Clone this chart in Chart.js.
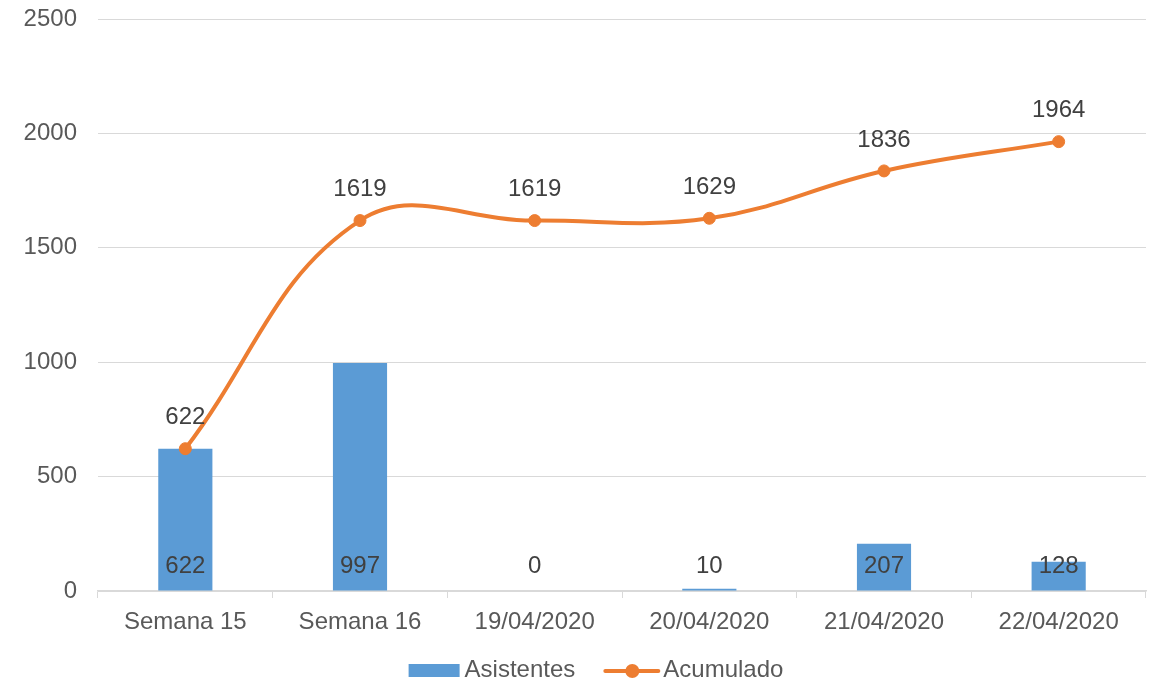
<!DOCTYPE html>
<html>
<head>
<meta charset="utf-8">
<script src="https://cdn.jsdelivr.net/npm/chart.js@4/dist/chart.umd.min.js"></script>
<style>
  html, body { margin: 0; padding: 0; background: #fff; }
  #wrap { width: 1158px; height: 684px; }
</style>
</head>
<body>
<div id="wrap"><canvas id="chart" width="1158" height="684"></canvas></div>
<script>
const categories = ["Semana 15", "Semana 16", "19/04/2020", "20/04/2020", "21/04/2020", "22/04/2020"];
const asistentes = [622, 997, 0, 10, 207, 128];
const acumulado = [622, 1619, 1619, 1629, 1836, 1964];
const yMin = 0;
const yMax = 2500;
const yStep = 500;

const BLUE = "#5b9bd5";
const ORANGE = "#ed7d31";
const FONT = "'Liberation Sans', Arial, sans-serif";

// value labels: bars near their base, line points above the marker
const valueLabels = {
  id: "valueLabels",
  afterDatasetsDraw(chart) {
    const ctx = chart.ctx;
    const yScale = chart.scales.y;
    ctx.save();
    ctx.font = `24px ${FONT}`;
    ctx.fillStyle = "#404040";
    ctx.textAlign = "center";
    ctx.textBaseline = "middle";
    chart.data.datasets.forEach((ds, i) => {
      const meta = chart.getDatasetMeta(i);
      meta.data.forEach((el, j) => {
        const v = ds.data[j];
        if (ds.type === "bar") {
          ctx.fillText(String(v), el.x, yScale.getPixelForValue(0) - 25);
        } else {
          ctx.fillText(String(v), el.x, el.y - 31);
        }
      });
    });
    ctx.restore();
  },
};

// legend under the axis: blue box for bars, line with dot for the total
const bottomLegend = {
  id: "bottomLegend",
  afterDraw(chart) {
    const ctx = chart.ctx;
    ctx.save();
    ctx.font = `24px ${FONT}`;
    const t1 = chart.data.datasets[0].label;
    const t2 = chart.data.datasets[1].label;
    const w1 = ctx.measureText(t1).width;
    const w2 = ctx.measureText(t2).width;
    const total = 51 + 5 + w1 + 28 + 57 + 3 + w2;
    let x = 596 - total / 2;
    const cy = 670;

    ctx.fillStyle = BLUE;
    ctx.fillRect(x, cy - 6, 51, 13);
    x += 56;
    ctx.fillStyle = "#595959";
    ctx.textBaseline = "middle";
    ctx.fillText(t1, x, cy);
    x += w1 + 28;

    ctx.strokeStyle = ORANGE;
    ctx.lineWidth = 4;
    ctx.lineCap = "round";
    ctx.beginPath();
    ctx.moveTo(x + 2, cy + 1);
    ctx.lineTo(x + 55, cy + 1);
    ctx.stroke();
    ctx.fillStyle = ORANGE;
    ctx.beginPath();
    ctx.arc(x + 29, cy + 1, 7, 0, Math.PI * 2);
    ctx.fill();
    x += 60;
    ctx.fillStyle = "#595959";
    ctx.fillText(t2, x, cy);
    ctx.restore();
  },
};

new Chart(document.getElementById("chart"), {
  data: {
    labels: categories,
    datasets: [
      {
        type: "bar",
        label: "Asistentes",
        data: asistentes,
        backgroundColor: BLUE,
        barPercentage: 0.31,
        categoryPercentage: 1,
        order: 2,
      },
      {
        type: "line",
        label: "Acumulado",
        data: acumulado,
        borderColor: ORANGE,
        backgroundColor: ORANGE,
        borderWidth: 4,
        pointRadius: 6,
        pointBorderWidth: 1,
        tension: 0.4,
        order: 1,
      },
    ],
  },
  options: {
    responsive: false,
    animation: false,
    layout: { padding: { top: 19, right: 12, left: 0, bottom: 50 } },
    plugins: {
      legend: { display: false },
      tooltip: { enabled: false },
    },
    scales: {
      x: {
        offset: true,
        afterFit: (scale) => { scale.height = 43; },
        grid: {
          offset: true,
          drawOnChartArea: false,
          drawTicks: true,
          tickLength: 7,
          color: "#d9d9d9",
        },
        border: { color: "#d9d9d9", width: 1.5 },
        ticks: {
          color: "#595959",
          font: { family: FONT, size: 24 },
          padding: 10,
          maxRotation: 0,
        },
      },
      y: {
        min: yMin,
        max: yMax,
        afterFit: (scale) => {
          scale.width = 98;
          scale.paddingTop = 0;
          scale.paddingBottom = 0;
        },
        grid: { color: "#d9d9d9", drawTicks: false },
        border: { display: false },
        ticks: {
          stepSize: yStep,
          color: "#595959",
          font: { family: FONT, size: 24 },
          padding: 21,
          callback: (v) => String(v),
        },
      },
    },
  },
  plugins: [valueLabels, bottomLegend],
});
</script>
</body>
</html>
